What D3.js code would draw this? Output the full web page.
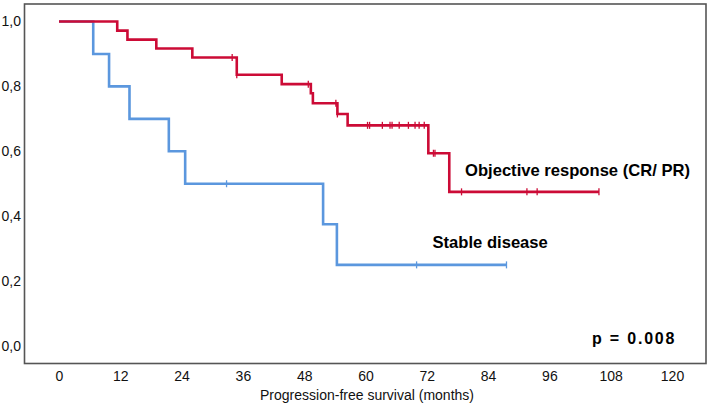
<!DOCTYPE html>
<html><head><meta charset="utf-8">
<script src="https://cdn.jsdelivr.net/npm/d3@7"></script>
<style>
html,body{margin:0;padding:0;background:#fff;}
svg{display:block;}
text{font-family:"Liberation Sans",Arial,sans-serif;}
</style></head>
<body>
<svg id="chart" width="709" height="406"></svg>
<script>
// ---- data ----
const xTicks = [0,12,24,36,48,60,72,84,96,108,120];
const yTicks = [0,0.2,0.4,0.6,0.8,1.0];

const respTimes = [0, 11.4, 13.4, 19.05, 26.1, 34.8, 43.6, 49.3, 49.7, 54.5, 56.5, 72.3, 76.4];
const respSurv  = [1.0, 0.972, 0.944, 0.917, 0.889, 0.836, 0.807, 0.779, 0.748, 0.715, 0.680, 0.594, 0.475];
const respEnd = 105.7;
const respCensor = [33.9, 34.8, 48.8, 54.2, 54.5, 60.4, 60.8, 63.3, 64.8, 65.2, 66.6, 68.4, 69.7, 70.5, 71.5, 73.3, 73.6, 78.8, 91.6, 93.6, 105.7];

const sdTimes = [0, 6.7, 9.8, 13.8, 21.5, 24.7, 51.7, 54.4];
const sdSurv  = [1.0, 0.9, 0.8, 0.7, 0.6, 0.5, 0.375, 0.25];
const sdEnd = 87.6;
const sdCensor = [32.8, 70.0, 87.6];

const labels = ["Objective response (CR/ PR)", "Stable disease"];
const pText = "p = 0.008";
const xTitle = "Progression-free survival (months)";

// ---- drawing ----
const svg = d3.select("#chart");
const x = d3.scaleLinear().domain([0,120]).range([59,672]);
const y = d3.scaleLinear().domain([0,1]).range([346,21.5]);

const locale = d3.formatLocale({decimal:",", thousands:".", grouping:[3], currency:["",""]});
const yfmt = locale.format(".1f");

// frame
svg.append("rect").attr("x",24.5).attr("y",4).attr("width",681.5).attr("height",359.5)
  .attr("fill","none").attr("stroke","#555").attr("stroke-width",1.6);

// axes (labels only)
const gx = svg.append("g").attr("transform","translate(0,363.5)")
  .call(d3.axisBottom(x).tickValues(xTicks).tickSize(0).tickPadding(4));
gx.select(".domain").remove();
gx.selectAll("text").attr("font-size",14).attr("fill","#111")
  .attr("font-family","'Liberation Sans',Arial,sans-serif").attr("dy","0.95em");

const gy = svg.append("g").attr("transform","translate(21,0)")
  .call(d3.axisLeft(y).tickValues(yTicks).tickSize(0).tickPadding(0).tickFormat(yfmt));
gy.select(".domain").remove();
gy.selectAll("text").attr("font-size",14).attr("fill","#111")
  .attr("font-family","'Liberation Sans',Arial,sans-serif");

svg.append("text").attr("x",367).attr("y",400).attr("text-anchor","middle")
  .attr("font-size",14).attr("fill","#111").text(xTitle);

function survAt(times, surv, t){
  let v = surv[0];
  for (let i=0;i<times.length;i++){ if (times[i] <= t + 1e-9) v = surv[i]; }
  return v;
}

function drawCurve(times, surv, end, censor, color){
  const pts = times.map((t,i)=>[t,surv[i]]);
  pts.push([end, surv[surv.length-1]]);
  const line = d3.line().x(d=>x(d[0])).y(d=>y(d[1])).curve(d3.curveStepAfter);
  svg.append("path").datum(pts).attr("d",line).attr("fill","none")
    .attr("stroke",color).attr("stroke-width",2.6).attr("stroke-linejoin","miter");
  svg.append("g").selectAll("line").data(censor).join("line")
    .attr("x1",d=>x(d)).attr("x2",d=>x(d))
    .attr("y1",d=>y(survAt(times,surv,d))-3.5).attr("y2",d=>y(survAt(times,surv,d))+3.5)
    .attr("stroke",color).attr("stroke-width",1.3);
}

drawCurve(sdTimes, sdSurv, sdEnd, sdCensor, "#5b97de");
drawCurve(respTimes, respSurv, respEnd, respCensor, "#cc0b36");

svg.append("text").attr("x",465).attr("y",176).attr("font-size",16.6).attr("font-weight","bold")
  .attr("fill","#000").text(labels[0]);
svg.append("text").attr("x",432.5).attr("y",247.5).attr("font-size",16.6).attr("font-weight","bold")
  .attr("fill","#000").text(labels[1]);
svg.append("text").attr("x",592).attr("y",344).attr("font-size",16).attr("font-weight","bold")
  .attr("letter-spacing","1.8px").attr("fill","#000").text(pText);
</script>
</body></html>
